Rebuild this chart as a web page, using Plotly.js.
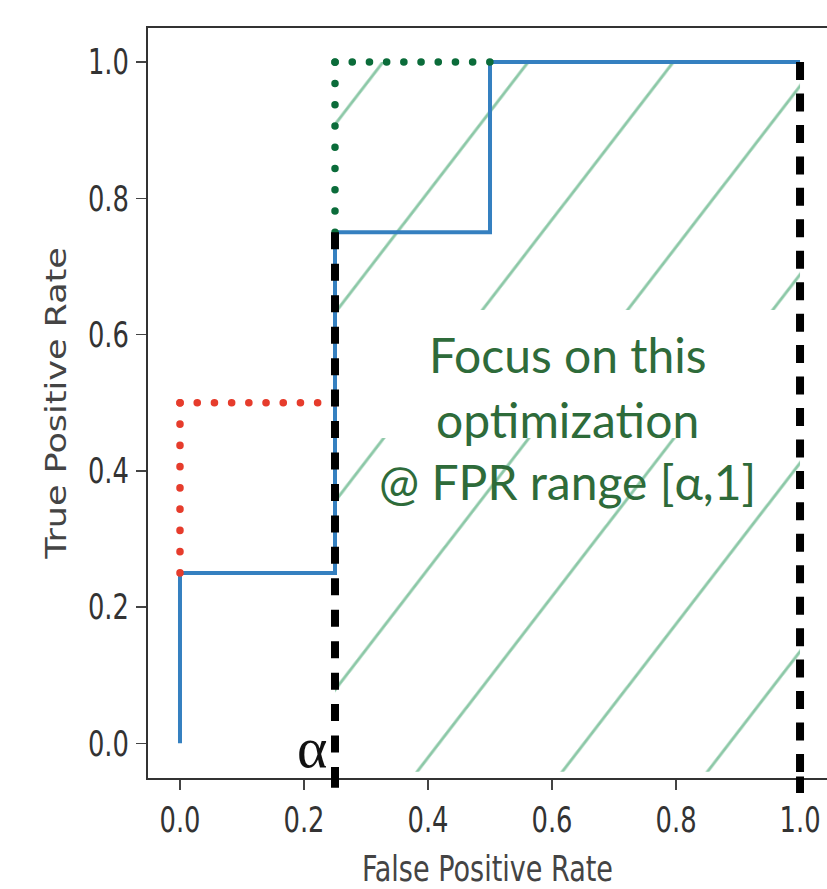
<!DOCTYPE html>
<html>
<head>
<meta charset="utf-8">
<script src="https://cdn.plot.ly/plotly-3.0.1.min.js"></script>
<style>
  html, body { margin: 0; padding: 0; background: #fff; overflow: hidden; }
  #chart { width: 827px; height: 889px; }
</style>
</head>
<body>
<div id="chart"></div>
<script>
// ---- data ----
const rocFPR = [0, 0, 0.25, 0.25, 0.5, 0.5, 1.0];
const rocTPR = [0, 0.25, 0.25, 0.75, 0.75, 1.0, 1.0];

const alpha = 0.25;

const redVertX = [0, 0];
const redVertY = [0.25, 0.5];
const redHorzX = [0, alpha];
const redHorzY = [0.5, 0.5];

const greenVertX = [alpha, alpha];
const greenVertY = [0.75, 1.0];
const greenHorzX = [alpha, 0.5];
const greenHorzY = [1.0, 1.0];

const alphaLineX = [alpha, alpha];
const alphaLineY = [0.75, -0.051];
const oneLineX = [1.0, 1.0];
const oneLineY = [1.0, -0.051];

const hatchX = [alpha, 1.0];
const hatchY = [-0.042, 1.0];

const xTickVals = [0, 0.2, 0.4, 0.6, 0.8, 1.0];
const xTickText = ['0.0', '0.2', '0.4', '0.6', '0.8', '1.0'];
const yTickVals = [0, 0.2, 0.4, 0.6, 0.8, 1.0];
const yTickText = ['0.0', '0.2', '0.4', '0.6', '0.8', '1.0'];

const noteLines = ['Focus on this', 'optimization', '@ FPR range [α,1]'];
const noteY = [0.571, 0.476, 0.385];
const noteX = 0.625;

// ---- styles ----
const sansC = '"DejaVu Sans Condensed", "DejaVu Sans", sans-serif';
const blue = '#3580c0';
const red = '#e63c2c';
const green = '#0b6c3a';
const squeezeTicks = 0.82;
const squeezeTitle = 0.86;

const hatchPolyX = [hatchX[0], hatchX[1], hatchX[1], hatchX[0], hatchX[0]];
const hatchPolyY = [hatchY[0], hatchY[0], hatchY[1], hatchY[1], hatchY[0]];

const traces = [
  { x: hatchPolyX, y: hatchPolyY, mode: 'lines', fill: 'toself',
    fillcolor: 'rgba(0,0,0,0)', line: { width: 0 },
    fillpattern: { shape: '/', size: 115, solidity: 0.026, fgcolor: '#8cc8a7',
                   fgopacity: 1, bgcolor: 'rgba(0,0,0,0)', fillmode: 'overlay' },
    hoverinfo: 'skip' },
  { x: rocFPR, y: rocTPR, mode: 'lines', line: { color: blue, width: 4 } },
  { x: redVertX, y: redVertY, mode: 'lines', line: { color: red, width: 7.5, dash: '0.1px,21.15px' } },
  { x: redHorzX, y: redHorzY, mode: 'lines', line: { color: red, width: 7.5, dash: '0.1px,17.1px' } },
  { x: greenVertX, y: greenVertY, mode: 'lines', line: { color: green, width: 7.5, dash: '0.1px,21.15px' } },
  { x: greenHorzX, y: greenHorzY, mode: 'lines', line: { color: green, width: 7.5, dash: '0.1px,17.1px' } },
  { x: alphaLineX, y: alphaLineY, mode: 'lines', line: { color: '#000', width: 8, dash: '17px,14.45px' } },
  { x: oneLineX, y: oneLineY, mode: 'lines', line: { color: '#000', width: 8, dash: '18px,13.45px' } }
];

const annotations = noteLines.map((t, i) => ({
  text: t, x: noteX, y: noteY[i], xref: 'x', yref: 'y',
  xanchor: 'center', yanchor: 'middle', showarrow: false,
  font: { family: 'Lato, "Open Sans", sans-serif', size: 48, color: '#2e6b3a' }
}));
annotations.push({
  text: 'α', x: alpha, y: 0, xref: 'x', yref: 'y', xshift: -6, yshift: -4,
  xanchor: 'right', yanchor: 'middle', showarrow: false,
  font: { family: '"Liberation Serif", "DejaVu Serif", serif', size: 58, color: '#111' }
});

const layout = {
  width: 827, height: 889,
  margin: { l: 148, r: 0, t: 28, b: 111 },
  paper_bgcolor: '#fff', plot_bgcolor: '#fff',
  showlegend: false,
  xaxis: {
    range: [-0.0516, 1.0435], showgrid: false, zeroline: false,
    showline: true, mirror: true, linecolor: '#333', linewidth: 2,
    ticks: 'outside', ticklen: 10, tickwidth: 1.5, tickcolor: '#444',
    tickvals: xTickVals, ticktext: xTickText,
    tickfont: { family: sansC, size: 35, color: '#333' },
    title: { text: 'False Positive Rate', standoff: 18,
             font: { family: sansC, size: 35, color: '#444' } },
    automargin: false
  },
  yaxis: {
    range: [-0.051, 1.050], showgrid: false, zeroline: false,
    showline: true, mirror: false, linecolor: '#333', linewidth: 2,
    ticks: 'outside', ticklen: 10, tickwidth: 1.5, tickcolor: '#444',
    tickvals: yTickVals, ticktext: yTickText,
    tickfont: { family: sansC, size: 35, color: '#333' },
    title: { text: 'True Positive Rate', standoff: 2,
             font: { family: '"DejaVu Sans", sans-serif', size: 35, color: '#444' } },
    automargin: false
  },
  shapes: [
    { type: 'rect', xref: 'x', yref: 'y', x0: 0.266, x1: 0.99, y0: 0.448, y1: 0.636,
      fillcolor: '#fff', line: { width: 0 }, layer: 'above' },
    { type: 'line', xref: 'x', yref: 'y domain', x0: alphaLineX[0], x1: alphaLineX[0],
      y0: -0.013, y1: 0.002, line: { color: '#000', width: 8 }, layer: 'above' },
    { type: 'line', xref: 'x', yref: 'y domain', x0: oneLineX[0], x1: oneLineX[0],
      y0: -0.020, y1: 0.002, line: { color: '#000', width: 8 }, layer: 'above' }
  ],
  annotations: annotations
};

function squeezeAppend(el, k) {
  const ax = parseFloat(el.getAttribute('x')) || 0;
  const t = el.getAttribute('transform') || '';
  el.setAttribute('transform', t + ' translate(' + ax + ',0) scale(' + k + ',1) translate(' + (-ax) + ',0)');
}
function squeezePrepend(el, k) {
  const ax = parseFloat(el.getAttribute('x')) || 0;
  const t = el.getAttribute('transform') || '';
  el.setAttribute('transform', 'translate(' + ax + ',0) scale(' + k + ',1) translate(' + (-ax) + ',0) ' + t);
}

Plotly.newPlot('chart', traces, layout, { displayModeBar: false, staticPlot: true }).then(() => {
  const trs = document.querySelectorAll('.scatterlayer .trace');
  [2, 3, 4, 5].forEach(i => {
    if (trs[i]) trs[i].querySelectorAll('path.js-line').forEach(p => { p.style.strokeLinecap = 'round'; });
  });
  document.querySelectorAll('pattern').forEach(p => {
    p.setAttribute('patternTransform', 'translate(73,56) rotate(-7.4)');
  });
  document.querySelectorAll('g.xtick text, g.ytick text').forEach(el => squeezeAppend(el, squeezeTicks));
  document.querySelectorAll('text.xtitle').forEach(el => squeezeAppend(el, squeezeTitle));
  document.querySelectorAll('text.ytitle').forEach(el => squeezePrepend(el, squeezeTicks));
});
</script>
</body>
</html>
